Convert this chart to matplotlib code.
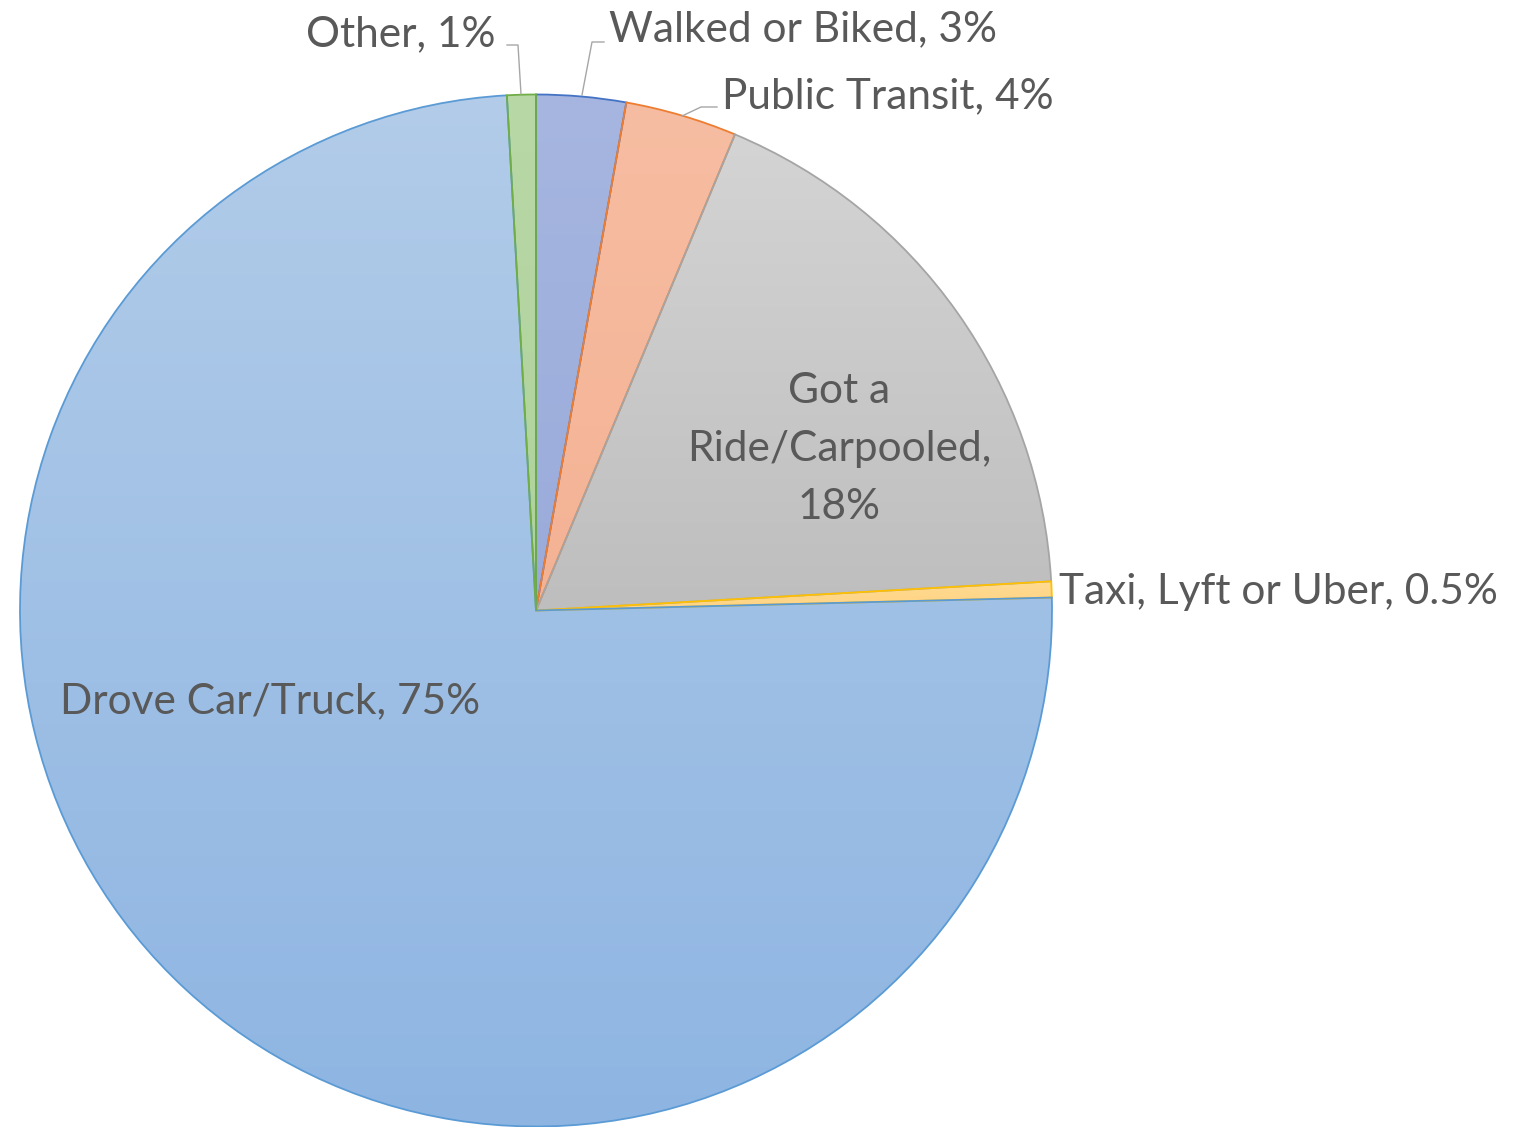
import matplotlib
matplotlib.use("Agg")
import matplotlib.pyplot as plt
import numpy as np
from matplotlib.colors import to_rgb

# ---- data (clockwise from 12 o'clock) ----
categories = ["Walked or Biked", "Public Transit", "Got a\nRide/Carpooled",
              "Taxi, Lyft or Uber", "Drove Car/Truck", "Other"]
values = [2.8, 3.5, 17.8, 0.5, 74.5, 0.9]
pct_labels = ["3%", "4%", "18%", "0.5%", "75%", "1%"]

# ---- styles ----
top_colors = ["#A6B6E0", "#F7BDA2", "#D4D4D4", "#FFDB92", "#B2CCE9", "#B8D8A6"]
bot_colors = ["#9AABDB", "#F4B294", "#BEBEBE", "#FFD383", "#8EB5E2", "#AFD29B"]
edge_colors = ["#4472C4", "#ED7D31", "#A5A5A5", "#FFC000", "#5B9BD5", "#70AD47"]
TXT = "#595959"
FONT = "Lato"
FS = 30.5

W, H = 1519, 1127
fig = plt.figure(figsize=(W / 100, H / 100), dpi=100)
ax = fig.add_axes([0, 0, 1, 1])

cx, cy, R = 536, H - 610.5, 516
wedges, _ = ax.pie(values, startangle=90, counterclock=False,
                   center=(cx, cy), radius=R, frame=True,
                   wedgeprops=dict(linewidth=1.3))

for w, tc, bc, ec in zip(wedges, top_colors, bot_colors, edge_colors):
    w.set_facecolor("none")
    w.set_edgecolor(ec)
    w.set_zorder(3)
    ext = w.get_path().get_extents()
    n = 256
    t = np.linspace(0, 1, n)[:, None]
    c0, c1 = np.array(to_rgb(bc)), np.array(to_rgb(tc))
    grad = (c0[None, :] * (1 - t) + c1[None, :] * t)[:, None, :]
    im = ax.imshow(grad, extent=(ext.x0, ext.x1, ext.y0, ext.y1),
                   origin="lower", aspect="auto", zorder=2,
                   interpolation="bilinear")
    im.set_clip_path(w)

ax.set_xlim(0, W)
ax.set_ylim(0, H)
ax.set_aspect("equal")
ax.axis("off")

def Y(y):
    return H - y

def lab(i):
    return f"{categories[i]}, {pct_labels[i]}"

kw = dict(color=TXT, fontsize=FS, family=FONT, zorder=5)
# Walked or Biked
ax.text(609, Y(29), lab(0), ha="left", va="center", **kw)
# Public Transit
ax.text(722, Y(96), lab(1), ha="left", va="center", **kw)
# Got a ride (inside)
ax.text(839, Y(449), lab(2).replace(", ", ",\n"), ha="center", va="center",
        linespacing=1.65, **kw)
# Taxi
ax.text(1059, Y(592), lab(3), ha="left", va="center", **kw)
# Drove
ax.text(60, Y(701), lab(4), ha="left", va="center", **kw)
# Other
ax.text(495, Y(34), lab(5), ha="right", va="center", **kw)

# leader lines
lc = dict(color="#A6A6A6", linewidth=1.0, zorder=4)
ax.plot([507, 518, 521], [Y(45), Y(45), Y(94)], **lc)
ax.plot([604, 592, 582], [Y(42), Y(42), Y(95)], **lc)
ax.plot([717, 701, 682], [Y(107), Y(107), Y(116)], **lc)

fig.savefig("out.png", dpi=100)
